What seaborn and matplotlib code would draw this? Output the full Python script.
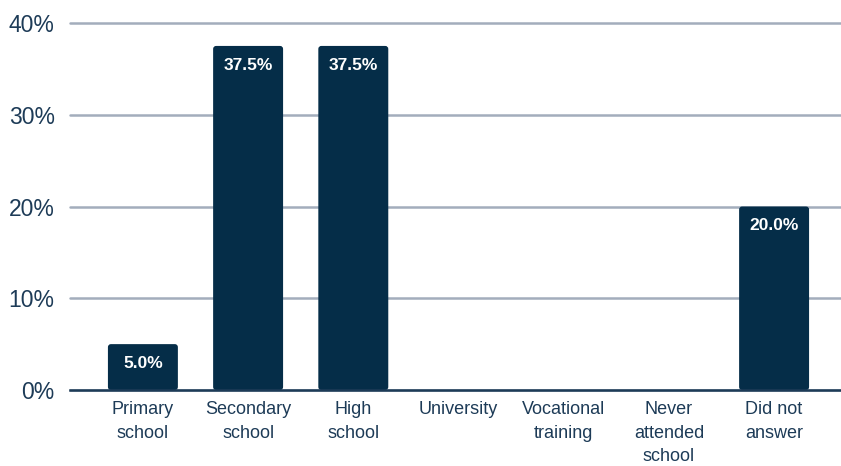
import matplotlib
matplotlib.use("Agg")
import matplotlib.pyplot as plt
from matplotlib.patches import FancyBboxPatch
import seaborn as sns
import pandas as pd

# Education level of respondents (share, %)
categories = ["Primary\nschool", "Secondary\nschool", "High\nschool", "University",
              "Vocational\ntraining", "Never\nattended\nschool", "Did not\nanswer"]
shares = [5.0, 37.5, 37.5, 0.0, 0.0, 0.0, 20.0]
y_ticks = [0, 10, 20, 30, 40]

NAVY = "#052d48"
TEXT = "#1d3b57"
GRID = "#a3adbc"

sns.set_theme(style="white")
plt.rcParams["font.family"] = ["Liberation Sans", "DejaVu Sans"]

df = pd.DataFrame({"category": categories, "share": shares})

fig = plt.figure(figsize=(8.41, 4.66), dpi=100)
ax = fig.add_axes([70 / 841, 76 / 466, 1 - 70 / 841, (390 - 23) / 466])

sns.barplot(data=df, x="category", y="share", color=NAVY, saturation=1,
            width=0.665, ax=ax, zorder=3)

ax.set_xlim(-0.693, 6.636)
ax.set_ylim(0, 40)

# Swap the square bars for ones with slightly rounded corners
px_x = (ax.get_xlim()[1] - ax.get_xlim()[0]) / (841 - 70)
px_y = 40 / (390 - 23)
radius = 3 * px_x
for bar in list(ax.patches):
    x, y = bar.get_x(), bar.get_y()
    w, h = bar.get_width(), bar.get_height()
    bar.remove()
    if h <= 0:
        continue
    ax.add_patch(FancyBboxPatch((x, y), w, h,
                                boxstyle=f"round,pad=0,rounding_size={radius}",
                                mutation_aspect=px_y / px_x,
                                facecolor=NAVY, edgecolor="none", zorder=3))

ax.set_yticks(y_ticks)
ax.set_yticklabels([f"{t}%" for t in y_ticks])
ax.set_xlabel("")
ax.set_ylabel("")

ax.yaxis.grid(True, color=GRID, linewidth=1.8, zorder=0)
for gl in ax.get_ygridlines():
    gl.set_clip_on(False)
ax.xaxis.grid(False)
for side in ["top", "right", "left"]:
    ax.spines[side].set_visible(False)
ax.spines["bottom"].set_color(TEXT)
ax.spines["bottom"].set_linewidth(1.8)
ax.spines["bottom"].set_zorder(4)

ax.tick_params(axis="y", length=0, pad=11, labelsize=16.5, labelcolor=TEXT)
ax.tick_params(axis="x", length=0, pad=8, labelsize=13, labelcolor=TEXT)
for lbl in ax.get_xticklabels():
    lbl.set_linespacing(1.5)

# Value labels inside the bars
for i, v in enumerate(shares):
    if v > 0:
        ax.annotate(f"{v:.1f}%", (i, v), xytext=(0, -14), textcoords="offset points",
                    ha="center", va="center", color="white", fontsize=12.5,
                    fontweight="bold", zorder=5)

fig.savefig("out.png", dpi=100, facecolor="white")
